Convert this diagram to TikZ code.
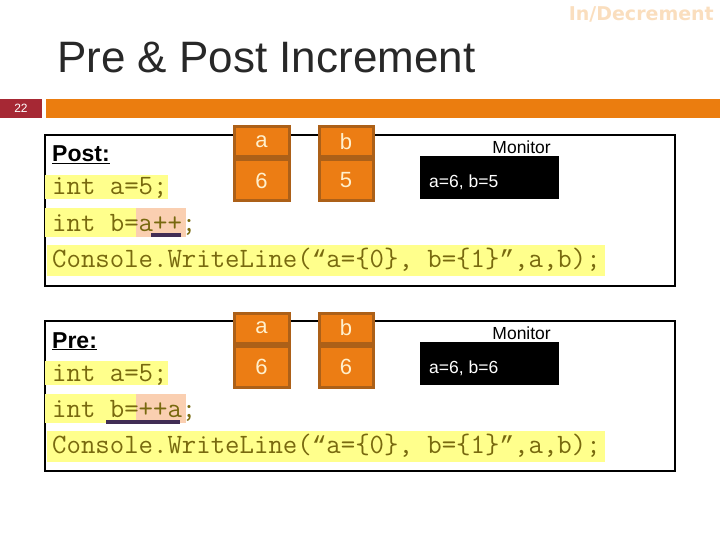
\documentclass[tikz,border=0pt]{standalone}
\usepackage{fontspec}
\setmainfont{Liberation Sans}
\setsansfont{Liberation Sans}
\newfontfamily\tagfont{DejaVu Sans}
\newfontfamily\quotefont{Liberation Mono}
\usetikzlibrary{positioning}

\definecolor{barorange}{RGB}{235,125,15}
\definecolor{pagered}{RGB}{166,40,52}
\definecolor{varfill}{RGB}{236,125,20}
\definecolor{varedge}{RGB}{172,96,24}
\definecolor{varink}{RGB}{255,240,205}
\definecolor{codeink}{RGB}{120,105,15}
\definecolor{hlyellow}{RGB}{255,255,140}
\definecolor{hlpeach}{RGB}{250,207,177}
\definecolor{markline}{RGB}{65,45,85}
\definecolor{titleink}{RGB}{40,40,40}
\definecolor{tagink}{RGB}{250,222,190}

% curly quotes in a matching width
\newcommand\openq{{\quotefont\fontsize{24.5}{24.5}\selectfont“}}
\newcommand\closeq{{\quotefont\fontsize{24.5}{24.5}\selectfont”}}

\tikzset{
  varcell/.style={draw=varedge,fill=varfill,line width=3pt,text=varink,inner sep=0pt,
    font=\sffamily\fontsize{22}{22}\selectfont},
  codeline/.style={anchor=base west,inner sep=0pt,text=codeink,
    font=\ttfamily\fontsize{28}{28}\selectfont},
  screen/.style={fill=black,anchor=north west,minimum width=139pt,minimum height=43pt},
  screentext/.style={anchor=west,inner sep=0pt,text=white,font=\sffamily\fontsize{17.5}{17.5}\selectfont},
  screenlabel/.style={anchor=east,inner sep=0pt,font=\sffamily\fontsize{17.5}{17.5}\selectfont},
  heading/.style={anchor=base west,inner sep=0pt,font=\sffamily\bfseries\fontsize{23}{23}\selectfont}
}

\begin{document}
\begin{tikzpicture}[x=1pt,y=-1pt]
  \useasboundingbox (0,0) rectangle (720,540);

  % header
  \node[anchor=east,inner sep=0pt,text=tagink,font=\tagfont\bfseries\fontsize{19}{19}\selectfont] (tag) at (714,14) {In/Decrement};
  \node[anchor=base west,inner sep=0pt,text=titleink,font=\sffamily\fontsize{44}{44}\selectfont] (title) at (57,73) {Pre \& Post Increment};
  \fill[pagered] (0,99) rectangle (42,118);
  \fill[barorange] (46,99) rectangle (720,118);
  \node[text=white,font=\sffamily\fontsize{12}{12}\selectfont] (page) at (21,108.5) {22};

  % post increment
  \draw[line width=1.5pt] (45,135) rectangle (675,286);
  \fill[hlyellow] (45,175) rectangle (168,199);
  \fill[hlyellow] (45,208) rectangle (136,237);
  \fill[hlpeach] (136,208) rectangle (186,237);
  \fill[hlyellow] (47,245) rectangle (605,276);
  \node[heading] (post) at (52,162) {\underline{Post:}};
  \node[codeline] (p1) at (52,195) {int a=5;};
  \node[codeline] (p2) at (52,231) {int b=a++;};
  \node[codeline] (p3) at (52,267) {Console.WriteLine(\openq a=\{0\}, b=\{1\}\closeq,a,b);};
  \fill[markline] (151,233) rectangle (181,237);

  \node[varcell,minimum width=55pt,minimum height=30pt] (pa) at (261.5,142) {a};
  \node[varcell,minimum width=55pt,minimum height=41pt,below=0pt of pa] (pav) {6};
  \node[varcell,minimum width=54pt,minimum height=30pt] (pb) at (346,142) {b};
  \node[varcell,minimum width=54pt,minimum height=41pt,below=0pt of pb] (pbv) {5};

  \node[screenlabel] (pmon) at (551,147) {Monitor};
  \node[screen] (pout) at (420,156) {};
  \node[screentext] (pouttext) at (429,182) {a=6, b=5};

  % pre increment
  \draw[line width=1.5pt] (45,321) rectangle (675,471);
  \fill[hlyellow] (45,361) rectangle (168,385);
  \fill[hlyellow] (45,394) rectangle (136,423);
  \fill[hlpeach] (136,394) rectangle (186,423);
  \fill[hlyellow] (47,431) rectangle (605,462);
  \node[heading] (pre) at (52,348) {\underline{Pre:}};
  \node[codeline] (q1) at (52,381) {int a=5;};
  \node[codeline] (q2) at (52,417) {int b=++a;};
  \node[codeline] (q3) at (52,453) {Console.WriteLine(\openq a=\{0\}, b=\{1\}\closeq,a,b);};
  \fill[markline] (106,420) rectangle (180,424);

  \node[varcell,minimum width=55pt,minimum height=30pt] (qa) at (261.5,328) {a};
  \node[varcell,minimum width=55pt,minimum height=41pt,below=0pt of qa] (qav) {6};
  \node[varcell,minimum width=54pt,minimum height=30pt] (qb) at (346,328) {b};
  \node[varcell,minimum width=54pt,minimum height=41pt,below=0pt of qb] (qbv) {6};

  \node[screenlabel] (qmon) at (551,333) {Monitor};
  \node[screen] (qout) at (420,342) {};
  \node[screentext] (qouttext) at (429,368) {a=6, b=6};
\end{tikzpicture}
\end{document}
